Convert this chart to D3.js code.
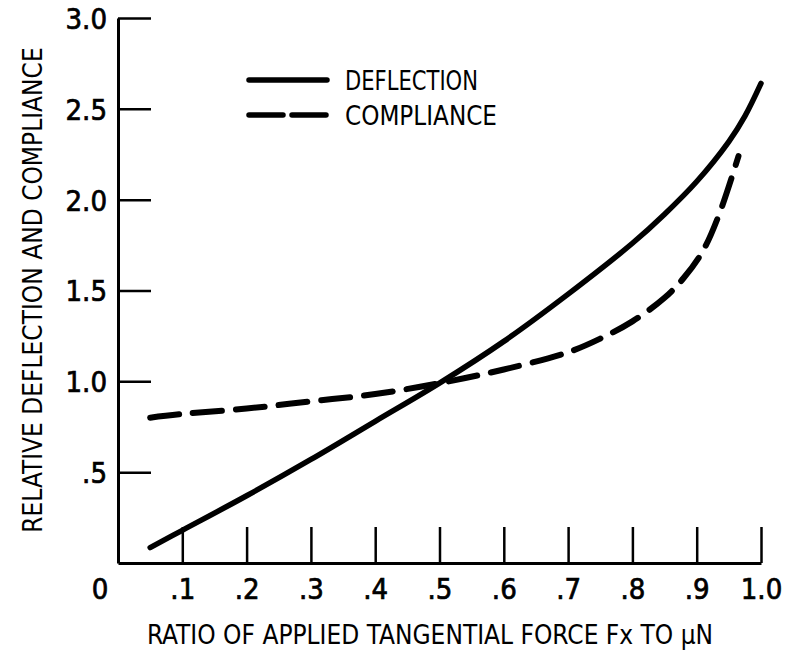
<!DOCTYPE html>
<html>
<head>
<meta charset="utf-8">
<script src="https://cdn.jsdelivr.net/npm/d3@7"></script>
<style>
  html, body { margin: 0; padding: 0; background: #fff; }
  svg { display: block; }
  text { font-family: "DejaVu Sans Condensed", "Liberation Sans Narrow", "Liberation Sans", sans-serif; fill: #000; }
</style>
</head>
<body>
<svg id="chart" width="787" height="658"></svg>
<script>
// ---- data ----
const deflectionX = [0.05, 0.1, 0.2, 0.3, 0.4, 0.5, 0.6, 0.7, 0.8, 0.85, 0.9, 0.95, 0.975, 1.0];
const deflectionY = [0.085, 0.18, 0.37, 0.57, 0.78, 0.99, 1.22, 1.48, 1.76, 1.92, 2.10, 2.32, 2.46, 2.64];
const complianceX = [0.05, 0.1, 0.2, 0.3, 0.4, 0.5, 0.6, 0.7, 0.75, 0.8, 0.85, 0.88, 0.91, 0.935, 0.965];
const complianceY = [0.80, 0.82, 0.85, 0.89, 0.93, 0.99, 1.065, 1.16, 1.235, 1.33, 1.46, 1.57, 1.72, 1.92, 2.24];
const xTicks = [0.1, 0.2, 0.3, 0.4, 0.5, 0.6, 0.7, 0.8, 0.9, 1.0];
const xTickLabels = [".1", ".2", ".3", ".4", ".5", ".6", ".7", ".8", ".9", "1.0"];
const yTicks = [0.5, 1.0, 1.5, 2.0, 2.5, 3.0];
const yTickLabels = [".5", "1.0", "1.5", "2.0", "2.5", "3.0"];
const seriesNames = ["DEFLECTION", "COMPLIANCE"];
const xTitle = "RATIO OF APPLIED TANGENTIAL FORCE Fx TO \u03bcN";
const yTitle = "RELATIVE DEFLECTION AND COMPLIANCE";

// ---- layout ----
const svg = d3.select("#chart");
const x = d3.scaleLinear().domain([0, 1]).range([118, 761]);
const y = d3.scaleLinear().domain([0, 3]).range([563, 18]);

const yAxis = d3.axisLeft(y)
  .tickValues(yTicks)
  .tickFormat((d, i) => yTickLabels[i])
  .tickSizeInner(-33).tickSizeOuter(0).tickPadding(11);
const xAxis = d3.axisBottom(x)
  .tickValues(xTicks)
  .tickFormat((d, i) => xTickLabels[i])
  .tickSizeInner(-36).tickSizeOuter(0).tickPadding(15);

const gy = svg.append("g").attr("transform", `translate(${x(0)},0)`).call(yAxis);
const gx = svg.append("g").attr("transform", `translate(0,${y(0)})`).call(xAxis);

[gx, gy].forEach(g => {
  g.select(".domain").attr("stroke", "#000").attr("stroke-width", 3);
  g.selectAll(".tick line").attr("stroke", "#000").attr("stroke-width", 2.5);
  g.selectAll(".tick text").attr("font-size", 29).attr("fill", "#000")
    .attr("stroke", "#000").attr("stroke-width", 0.7)
    .style("font-family", "'DejaVu Sans Condensed', 'Liberation Sans Narrow', sans-serif");
});
gy.selectAll(".tick text").attr("dy", "0.36em");

// zero label at the origin
svg.append("text").attr("x", 100).attr("y", y(0) + 15).attr("dy", "0.71em")
  .attr("text-anchor", "middle").attr("font-size", 29)
  .attr("stroke", "#000").attr("stroke-width", 0.7).text("0");

// lines
const line = d3.line().x(d => x(d[0])).y(d => y(d[1])).curve(d3.curveCatmullRom.alpha(0.5));
const defl = deflectionX.map((v, i) => [v, deflectionY[i]]);
const comp = complianceX.map((v, i) => [v, complianceY[i]]);

svg.append("path").datum(defl).attr("d", line)
  .attr("fill", "none").attr("stroke", "#000").attr("stroke-width", 5.5)
  .attr("stroke-linecap", "round");
svg.append("path").datum(comp).attr("d", line)
  .attr("fill", "none").attr("stroke", "#000").attr("stroke-width", 6)
  .attr("stroke-linecap", "round").attr("stroke-dasharray", "29 14");

// legend
const legend = svg.append("g");
const legY = [80, 115];
const legW = [133, 152];
legend.append("line").attr("x1", 249).attr("x2", 327).attr("y1", legY[0]).attr("y2", legY[0])
  .attr("stroke", "#000").attr("stroke-width", 5.5).attr("stroke-linecap", "round");
legend.append("line").attr("x1", 249).attr("x2", 327).attr("y1", legY[1]).attr("y2", legY[1])
  .attr("stroke", "#000").attr("stroke-width", 5.5).attr("stroke-linecap", "round")
  .attr("stroke-dasharray", "34 9");
seriesNames.forEach((n, i) => {
  legend.append("text").attr("x", 345).attr("y", legY[i]).attr("dy", "0.36em")
    .attr("font-size", 27).attr("textLength", legW[i]).attr("lengthAdjust", "spacingAndGlyphs")
    .text(n);
});

// axis titles
svg.append("text").attr("x", 430).attr("y", 635).attr("dy", "0.36em")
  .attr("text-anchor", "middle").attr("font-size", 26).text(xTitle);
svg.append("text").attr("transform", "translate(33,290) rotate(-90)").attr("dy", "0.36em")
  .attr("text-anchor", "middle").attr("font-size", 26).text(yTitle);
</script>
</body>
</html>
